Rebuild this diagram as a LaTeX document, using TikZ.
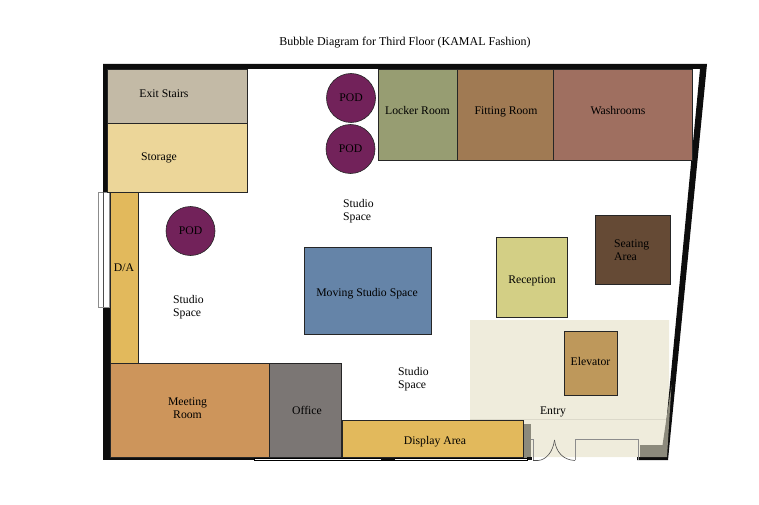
\documentclass[tikz,border=0pt]{standalone}
\usepackage{fontspec}
\setmainfont{Liberation Serif}
\definecolor{stairscol}{HTML}{C3BAA6}
\definecolor{storagecol}{HTML}{ECD699}
\definecolor{dacol}{HTML}{E2B95C}
\definecolor{meetingcol}{HTML}{CD955B}
\definecolor{officecol}{HTML}{7B7674}
\definecolor{lockercol}{HTML}{979D72}
\definecolor{fittingcol}{HTML}{A07A53}
\definecolor{washcol}{HTML}{9F6F60}
\definecolor{seatingcol}{HTML}{654A35}
\definecolor{receptioncol}{HTML}{D3CF85}
\definecolor{movingcol}{HTML}{6584A8}
\definecolor{elevatorcol}{HTML}{BE985B}
\definecolor{entrycol}{HTML}{EFECDC}
\definecolor{shadowcol}{HTML}{8C8A7C}
\definecolor{podcol}{HTML}{72225A}
\tikzset{
  room/.style={draw=black!85, line width=0.8pt, inner sep=0pt},
  pod/.style={circle, draw=black!85, line width=0.6pt, fill=podcol, minimum size=49pt, inner sep=0pt, font=\fontsize{11.7}{13}\selectfont},
  label/.style={align=center, inner sep=0pt, font=\fontsize{11.7}{13}\selectfont},
  leftlabel/.style={label, align=left},
  wall/.style={fill=black!95!white, draw=none},
  frame/.style={draw=black!45, line width=0.6pt, fill=white},
}
\begin{document}
\begin{tikzpicture}[x=1pt,y=-1pt]
  \useasboundingbox (0,0) rectangle (759,505);

  % entry floor
  \fill[entrycol] (470,320) -- (669,320) -- (669,419) -- (664,457) -- (523,457) -- (523,419) -- (470,419) -- cycle;
  \draw[entrycol!92!black, line width=0.4pt] (470,419) -- (667,419);
  \fill[shadowcol] (523,424) rectangle (531,458);

  % walls
  \fill[wall] (103,64) -- (707,64) -- (668,460) -- (637,460) -- (637,457) -- (663,457) -- (700,69) -- (107,69) -- (107,192) -- (103,192) -- cycle;
  \fill[wall] (103,307) rectangle (110,460);
  \fill[wall] (103,457) rectangle (254,460);
  \fill[wall] (527,457) rectangle (532,460);
  \draw[draw=black, line width=0.6pt, fill=white] (254,458) rectangle (527,460);
  \fill[wall] (381,457) rectangle (395,460);

  % shadow over the wall
  \fill[shadowcol] (671.5,385) -- (667,457) -- (640,457) -- (640,445) -- (662.5,445) -- cycle;

  % window
  \draw[frame] (98,192) rectangle (109,307);
  \draw[black!70, line width=0.5pt] (103,192) -- (103,307);

  % doors
  \draw[frame, fill=none] (533,460) -- (533,439) -- (531,439);
  \draw[frame, fill=none] (575,460) -- (575,439) -- (638,439) -- (638,460);
  \draw[black!70, line width=0.6pt] (533,460.5) -- (538,460.5) .. controls (546,460) and (553,452) .. (554.5,440);
  \draw[black!70, line width=0.6pt] (575,460.5) .. controls (563,460) and (556,452) .. (554.5,440);

  % rooms
  \node[room, fill=stairscol, minimum width=140pt, minimum height=54pt] (stairs) at (177,96) {};
  \node[room, fill=storagecol, minimum width=140pt, minimum height=69pt] (storage) at (177,157.5) {};
  \node[room, fill=dacol, minimum width=28pt, minimum height=171pt] (da) at (124.5,277.5) {};
  \node[room, fill=meetingcol, minimum width=159pt, minimum height=94pt] (meeting) at (189.5,410) {};
  \node[room, fill=officecol, minimum width=72pt, minimum height=94pt] (office) at (305,410) {};
  \node[room, fill=dacol, minimum width=181pt, minimum height=37pt] (display) at (432.5,438.5) {};
  \node[room, fill=lockercol, minimum width=79pt, minimum height=91pt] (locker) at (417.5,114.5) {};
  \node[room, fill=fittingcol, minimum width=96pt, minimum height=91pt] (fitting) at (505,114.5) {};
  \node[room, fill=washcol, minimum width=139pt, minimum height=91pt] (wash) at (622.5,114.5) {};
  \node[room, fill=seatingcol, minimum width=75pt, minimum height=69pt] (seating) at (632.5,249.5) {};
  \node[room, fill=receptioncol, minimum width=71.5pt, minimum height=80.5pt] (reception) at (532,277.5) {};
  \node[room, fill=movingcol, minimum width=127.5pt, minimum height=87pt] (moving) at (368,290.5) {};
  \node[room, fill=elevatorcol, minimum width=53pt, minimum height=64pt] (elevator) at (590.5,363) {};

  % pods
  \node[pod] (podone) at (351,98) {POD};
  \node[pod] (podtwo) at (350.5,149) {POD};
  \node[pod] (podthree) at (190.5,231) {POD};

  % labels
  \node[label, font=\fontsize{12}{13}\selectfont] (title) at (405,42.5) {Bubble Diagram for Third Floor (KAMAL Fashion)};
  \node[label] (stairstext) at (164,93.5) {Exit Stairs};
  \node[label] (storagetext) at (159,157.5) {Storage};
  \node[label] (datext) at (124,268) {D/A};
  \node[label] (meetingtext) at (187.5,408.5) {Meeting\\Room};
  \node[label] (officetext) at (307,410) {Office};
  \node[label] (displaytext) at (435,442) {Display Area};
  \node[label] (lockertext) at (417.5,110.5) {Locker Room};
  \node[label] (fittingtext) at (506,111.5) {Fitting Room};
  \node[label] (washtext) at (618,110.5) {Washrooms};
  \node[leftlabel, anchor=west] (seatingtext) at (614,250.5) {Seating\\Area};
  \node[label] (receptiontext) at (532,280.5) {Reception};
  \node[label] (movingtext) at (367,293.5) {Moving Studio Space};
  \node[label] (elevatortext) at (590.5,361) {Elevator};
  \node[leftlabel, anchor=west] (studioone) at (343,211) {Studio\\Space};
  \node[leftlabel, anchor=west] (studiotwo) at (173,307) {Studio\\Space};
  \node[leftlabel, anchor=west] (studiothree) at (398,379.5) {Studio\\Space};
  \node[label] (entry) at (553,411.5) {Entry};
\end{tikzpicture}
\end{document}
